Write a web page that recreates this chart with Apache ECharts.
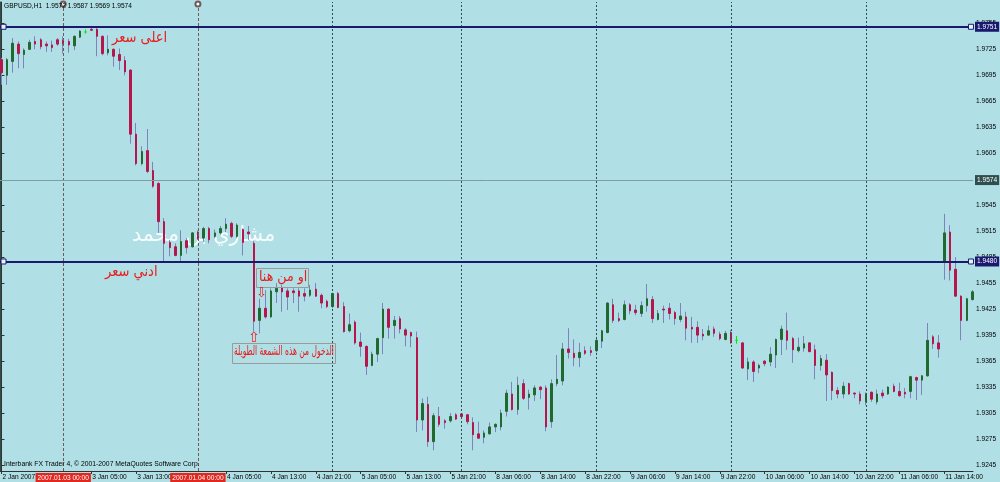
<!DOCTYPE html>
<html><head><meta charset="utf-8">
<script src="https://cdn.jsdelivr.net/npm/echarts@6/dist/echarts.min.js"></script>
<style>html,body{margin:0;padding:0;background:#b0e0e6}#c{width:1000px;height:482px}</style>
</head><body><div id="c"></div><script>
// ---- data (GBPUSD H1, 2 Jan 13:00 .. 11 Jan 19:00, 2007) ----
const opens = [1.9713,1.9695,1.9711,1.9731,1.9719,1.9725,1.9734,1.9736,1.9731,1.9730,1.9736,1.9735,1.9734,1.9729,1.9739,1.9745,1.9748,1.9748,1.9740,1.9721,
1.9725,1.9719,1.9712,1.9701,1.9627,1.9593,1.9608,1.9585,1.9570,1.9526,1.9502,1.9497,1.9487,1.9504,1.9497,1.9514,1.9507,1.9518,1.9509,1.9513,
1.9518,1.9524,1.9509,1.9517,1.9514,1.9501,1.9412,1.9426,1.9416,1.9445,1.9450,1.9446,1.9446,1.9446,1.9443,1.9441,1.9448,1.9441,1.9434,1.9428,
1.9443,1.9428,1.9400,1.9410,1.9387,1.9382,1.9360,1.9373,1.9392,1.9425,1.9406,1.9414,1.9401,1.9398,1.9392,1.9297,1.9315,1.9272,1.9301,1.9296,
1.9296,1.9303,1.9304,1.9303,1.9294,1.9281,1.9277,1.9281,1.9289,1.9289,1.9307,1.9327,1.9309,1.9339,1.9323,1.9326,1.9335,1.9334,1.9295,1.9339,
1.9342,1.9379,1.9374,1.9369,1.9377,1.9377,1.9377,1.9388,1.9398,1.9430,1.9414,1.9413,1.9430,1.9424,1.9420,1.9429,1.9436,1.9413,1.9425,1.9426,
1.9421,1.9413,1.9416,1.9404,1.9404,1.9396,1.9395,1.9402,1.9396,1.9390,1.9398,1.9389,1.9386,1.9356,1.9364,1.9357,1.9365,1.9364,1.9372,1.9390,
1.9400,1.9391,1.9377,1.9380,1.9386,1.9378,1.9360,1.9366,1.9352,1.9331,1.9327,1.9339,1.9328,1.9327,1.9318,1.9329,1.9318,1.9328,1.9327,1.9336,
1.9330,1.9329,1.9330,1.9346,1.9343,1.9348,1.9393,1.9386,1.9480,1.9514,1.9471,1.9440,1.9412,1.9436];
const highs = [1.9715,1.9715,1.9738,1.9734,1.9726,1.9736,1.9740,1.9738,1.9734,1.9735,1.9738,1.9740,1.9737,1.9741,1.9747,1.9748,1.9750,1.9751,1.9741,1.9741,
1.9726,1.9726,1.9717,1.9702,1.9640,1.9613,1.9633,1.9595,1.9572,1.9530,1.9505,1.9501,1.9516,1.9507,1.9514,1.9516,1.9520,1.9520,1.9517,1.9521,
1.9530,1.9526,1.9524,1.9518,1.9521,1.9504,1.9437,1.9447,1.9449,1.9455,1.9453,1.9449,1.9449,1.9449,1.9449,1.9453,1.9455,1.9443,1.9436,1.9444,
1.9445,1.9433,1.9420,1.9412,1.9398,1.9383,1.9376,1.9392,1.9432,1.9426,1.9417,1.9417,1.9403,1.9399,1.9399,1.9322,1.9324,1.9305,1.9312,1.9298,
1.9305,1.9305,1.9305,1.9304,1.9300,1.9295,1.9285,1.9294,1.9293,1.9309,1.9332,1.9341,1.9347,1.9344,1.9332,1.9337,1.9336,1.9337,1.9344,1.9372,
1.9386,1.9403,1.9390,1.9386,1.9382,1.9382,1.9393,1.9401,1.9433,1.9437,1.9421,1.9435,1.9432,1.9430,1.9434,1.9454,1.9440,1.9424,1.9429,1.9432,
1.9423,1.9432,1.9422,1.9416,1.9411,1.9402,1.9406,1.9405,1.9399,1.9400,1.9401,1.9394,1.9387,1.9369,1.9366,1.9362,1.9366,1.9381,1.9391,1.9406,
1.9421,1.9393,1.9392,1.9394,1.9387,1.9384,1.9372,1.9373,1.9353,1.9335,1.9341,1.9340,1.9329,1.9330,1.9329,1.9330,1.9332,1.9332,1.9336,1.9339,
1.9340,1.9334,1.9348,1.9347,1.9349,1.9409,1.9395,1.9395,1.9535,1.9522,1.9485,1.9441,1.9438,1.9447];
const lows = [1.9684,1.9684,1.9698,1.9703,1.9703,1.9724,1.9725,1.9725,1.9722,1.9722,1.9729,1.9720,1.9721,1.9724,1.9738,1.9743,1.9746,1.9717,1.9718,1.9718,
1.9705,1.9701,1.9695,1.9616,1.9591,1.9591,1.9582,1.9565,1.9513,1.9480,1.9486,1.9486,1.9480,1.9489,1.9496,1.9505,1.9503,1.9501,1.9507,1.9511,
1.9514,1.9507,1.9507,1.9487,1.9505,1.9399,1.9397,1.9414,1.9415,1.9432,1.9422,1.9424,1.9432,1.9422,1.9434,1.9439,1.9439,1.9426,1.9426,1.9426,
1.9426,1.9398,1.9398,1.9384,1.9370,1.9349,1.9359,1.9364,1.9373,1.9391,1.9391,1.9397,1.9382,1.9381,1.9283,1.9285,1.9266,1.9262,1.9289,1.9287,
1.9294,1.9297,1.9300,1.9292,1.9262,1.9275,1.9270,1.9280,1.9283,1.9285,1.9301,1.9308,1.9303,1.9320,1.9309,1.9319,1.9321,1.9284,1.9288,1.9336,
1.9337,1.9368,1.9359,1.9358,1.9372,1.9371,1.9375,1.9380,1.9397,1.9409,1.9410,1.9412,1.9419,1.9418,1.9416,1.9422,1.9409,1.9412,1.9409,1.9413,
1.9407,1.9410,1.9389,1.9386,1.9386,1.9389,1.9394,1.9393,1.9389,1.9389,1.9385,1.9385,1.9356,1.9343,1.9341,1.9351,1.9359,1.9359,1.9357,1.9372,
1.9378,1.9363,1.9375,1.9376,1.9375,1.9344,1.9354,1.9319,1.9320,1.9322,1.9322,1.9326,1.9322,1.9315,1.9314,1.9318,1.9315,1.9322,1.9326,1.9329,
1.9324,1.9322,1.9322,1.9320,1.9326,1.9347,1.9379,1.9369,1.9459,1.9458,1.9439,1.9389,1.9411,1.9435];
const closes = [1.9698,1.9713,1.9732,1.9720,1.9724,1.9733,1.9731,1.9728,1.9729,1.9727,1.9731,1.9731,1.9730,1.9740,1.9746,1.9745,1.9747,1.9740,1.9720,1.9725,
1.9717,1.9712,1.9699,1.9627,1.9593,1.9607,1.9584,1.9567,1.9526,1.9501,1.9496,1.9487,1.9503,1.9496,1.9513,1.9506,1.9518,1.9505,1.9513,1.9518,
1.9523,1.9509,1.9522,1.9502,1.9512,1.9411,1.9426,1.9416,1.9446,1.9449,1.9445,1.9439,1.9444,1.9440,1.9440,1.9447,1.9440,1.9432,1.9428,1.9443,
1.9427,1.9399,1.9407,1.9386,1.9382,1.9359,1.9373,1.9391,1.9425,1.9404,1.9412,1.9402,1.9395,1.9394,1.9297,1.9316,1.9272,1.9302,1.9292,1.9294,
1.9301,1.9298,1.9301,1.9295,1.9280,1.9276,1.9282,1.9289,1.9292,1.9305,1.9328,1.9309,1.9337,1.9322,1.9327,1.9334,1.9332,1.9289,1.9339,1.9344,
1.9379,1.9375,1.9369,1.9375,1.9374,1.9375,1.9389,1.9400,1.9432,1.9412,1.9412,1.9430,1.9423,1.9421,1.9429,1.9437,1.9414,1.9420,1.9424,1.9420,
1.9414,1.9417,1.9403,1.9402,1.9395,1.9394,1.9400,1.9397,1.9391,1.9397,1.9386,1.9389,1.9357,1.9364,1.9353,1.9360,1.9362,1.9373,1.9390,1.9402,
1.9389,1.9378,1.9381,1.9385,1.9376,1.9360,1.9368,1.9349,1.9331,1.9327,1.9336,1.9327,1.9327,1.9319,1.9327,1.9321,1.9327,1.9325,1.9335,1.9330,
1.9325,1.9327,1.9347,1.9343,1.9348,1.9389,1.9385,1.9379,1.9513,1.9470,1.9440,1.9412,1.9437,1.9445];

const xTickIdx = [0,16,24,40,48,56,64,72,80,88,96,104,112,120,128,136,144,152,160,168];
const xTickLabels = ['2 Jan 2007','3 Jan 05:00','3 Jan 13:00','4 Jan 05:00','4 Jan 13:00','4 Jan 21:00','5 Jan 05:00','5 Jan 13:00','5 Jan 21:00','8 Jan 06:00','8 Jan 14:00','8 Jan 22:00','9 Jan 06:00','9 Jan 14:00','9 Jan 22:00','10 Jan 06:00','10 Jan 14:00','10 Jan 22:00','11 Jan 06:00','11 Jan 14:00'];
const yTickValues = [1.9245,1.9275,1.9305,1.9335,1.9365,1.9395,1.9425,1.9455,1.9485,1.9515,1.9545,1.9605,1.9635,1.9665,1.9695,1.9725,1.9755];
const levelHigh = 1.9751, levelLow = 1.9480, levelBid = 1.9574;
const vlineIdx = [11, 35];
const vlineLabels = ['2007.01.03 00:00', '2007.01.04 00:00'];
const daySepIdx = [59, 82, 106, 130, 154];
const symbolName = 'GBPUSD,H1';
const currentBar = [1.9572, 1.9587, 1.9569, 1.9574];

// ---- styles ----
const LATIN = "'Liberation Sans',Arial,sans-serif";
const ARABIC = "'DejaVu Sans',sans-serif";
const BULL = '#22692f', BEAR = '#b5164b', WICK = '#7f82bb', DOJI = '#00ee00';
const NAVY = '#191970', RED = '#e81c1c';
const X_MIN = -0.267, X_MAX = 173.11, Y_MIN = 1.92381, Y_MAX = 1.97796;
const SMALL = 6.6;

const fullData = opens.map((o, i) => [i, o, closes[i], lows[i], highs[i]]);
const bodyData = opens.map((o, i) => [i, o, closes[i], Math.min(o, closes[i]), Math.max(o, closes[i])]);

const priceLabel = (bg) => ({
  show: true, position: 'end', distance: 2, formatter: p => p.value.toFixed(4),
  color: '#fff', backgroundColor: bg, padding: [2, 2, 1, 2], fontSize: SMALL, fontFamily: LATIN
});

const chart = echarts.init(document.getElementById('c'), null, {renderer: 'canvas'});
chart.setOption({
  animation: false,
  backgroundColor: '#b0e0e6',
  grid: {left: 0, right: 27, top: 2, bottom: 11, containLabel: false, outerBoundsMode: 'none'},
  xAxis: {
    type: 'value', min: X_MIN, max: X_MAX,
    splitLine: {show: false},
    axisLine: {show: true, onZero: false, lineStyle: {color: '#333', width: 1}},
    axisTick: {show: true, customValues: xTickIdx, length: 3, lineStyle: {color: '#333'}},
    axisLabel: {
      customValues: xTickIdx, align: 'left', margin: 3, padding: [0, 0, 0, 1],
      fontSize: SMALL, fontFamily: LATIN, color: '#000', hideOverlap: false,
      formatter: v => xTickLabels[xTickIdx.indexOf(v)]
    }
  },
  yAxis: [{
    type: 'value', position: 'right', min: Y_MIN, max: Y_MAX, scale: true,
    splitLine: {show: false},
    axisLine: {show: true, lineStyle: {color: '#333', width: 1}},
    axisTick: {show: true, customValues: yTickValues, length: 3, lineStyle: {color: '#333'}},
    axisLabel: {customValues: yTickValues, margin: 3, fontSize: SMALL, fontFamily: LATIN, color: '#000',
      formatter: v => v.toFixed(4)}
  }, {
    type: 'value', position: 'left', min: Y_MIN, max: Y_MAX, scale: true,
    splitLine: {show: false}, axisTick: {show: false}, axisLabel: {show: false},
    axisLine: {show: true, lineStyle: {color: '#2f4f4f', width: 1}}
  }],
  graphic: [
    {type: 'text', z: -1, left: 132, top: 225, scaleX: 0.98, style: {text: 'مشاري بن محمد', fill: 'rgba(255,255,255,0.9)', font: "21px 'DejaVu Sans'"}},
    {type: 'text', z: 100, left: 4, top: 3, style: {text: symbolName + '  ' + currentBar.map(v => v.toFixed(4)).join(' '), fill: '#000', font: SMALL + "px " + LATIN}},
    {type: 'text', z: 100, left: 4, top: 461, style: {text: 'Interbank FX Trader 4, © 2001-2007 MetaQuotes Software Corp.', fill: '#000', font: "6.8px " + LATIN}},
    {type: 'text', z: 100, left: 112, top: 31, scaleX: 0.87, style: {text: 'اعلى سعر', fill: RED, font: "15px " + ARABIC}},
    {type: 'text', z: 100, left: 105, top: 265, scaleX: 0.87, style: {text: 'ادني سعر', fill: RED, font: "15px " + ARABIC}},
    {type: 'rect', z: 100, shape: {x: 256.5, y: 268.5, width: 52, height: 19}, style: {fill: 'none', stroke: '#9a9a9a', lineWidth: 1}},
    {type: 'text', z: 100, left: 259, top: 270, scaleX: 0.9, style: {text: 'او من هنا', fill: RED, font: "14px " + ARABIC}},
    {type: 'text', z: 100, left: 256, top: 287, style: {text: '⇩', fill: RED, font: "13px " + ARABIC}},
    {type: 'text', z: 100, left: 248, top: 331, style: {text: '⇧', fill: RED, font: "14px " + ARABIC}},
    {type: 'rect', z: 100, shape: {x: 232.5, y: 343.5, width: 103, height: 20}, style: {fill: 'none', stroke: '#9a9a9a', lineWidth: 1}},
    {type: 'text', z: 100, left: 234, top: 345, scaleX: 0.58, style: {text: 'الدخول من هذه الشمعة الطويلة', fill: RED, font: "13px " + ARABIC}}
  ],
  series: [
    { // vertical objects and day separators (behind candles)
      type: 'line', data: [], z: 1, silent: true,
      markLine: {
        silent: true, symbol: ['none', 'none'], animation: false, precision: 4,
        data: vlineIdx.map((v, k) => ({
          xAxis: v, lineStyle: {color: '#6e5a5a', type: [3, 2], width: 1},
          label: {show: true, position: 'start', distance: 2, formatter: vlineLabels[k], color: '#fff',
            backgroundColor: '#e3261e', padding: [2, 2, 1, 2], fontSize: SMALL, fontFamily: LATIN}
        })).concat(daySepIdx.map(v => ({
          xAxis: v, lineStyle: {color: '#2f4f4f', type: [2, 2], width: 1}, label: {show: false}
        })))
      },
      markPoint: {
        silent: true, symbol: 'emptyCircle', symbolSize: 5, label: {show: false},
        itemStyle: {color: '#6e5a5a', borderColor: '#6e5a5a', borderWidth: 1},
        data: vlineIdx.map(v => ({coord: [v, 1.97772]}))
      }
    },
    { // wicks
      type: 'candlestick', data: fullData, barWidth: 1, z: 3, silent: true,
      itemStyle: {color: WICK, color0: WICK, borderColor: WICK, borderColor0: WICK, borderColorDoji: DOJI, borderWidth: 1}
    },
    { // bodies
      type: 'candlestick', data: bodyData, barWidth: 2, z: 4, silent: true,
      itemStyle: {color: BULL, color0: BEAR, borderColor: BULL, borderColor0: BEAR, borderColorDoji: DOJI, borderWidth: 1}
    },
    { // horizontal level lines (above candles)
      type: 'line', data: [], z: 6, silent: true,
      markLine: {
        silent: true, symbol: ['none', 'none'], animation: false, precision: 4,
        data: [
          {yAxis: levelBid, lineStyle: {color: '#7f9ca0', width: 1, type: 'solid'}, label: priceLabel('#2f4f4f')},
          {yAxis: levelHigh, lineStyle: {color: NAVY, width: 2, type: 'solid'}, label: priceLabel(NAVY)},
          {yAxis: levelLow, lineStyle: {color: NAVY, width: 2, type: 'solid'}, label: priceLabel(NAVY)}
        ]
      },
      markPoint: {
        silent: true, symbol: 'rect', symbolSize: 5, label: {show: false},
        itemStyle: {color: '#e8f4f8', borderColor: NAVY, borderWidth: 1},
        data: [[0.36, levelHigh], [172.75, levelHigh], [0.36, levelLow], [172.75, levelLow]].map(c => ({coord: c}))
      }
    }
  ]
});
</script></body></html>
